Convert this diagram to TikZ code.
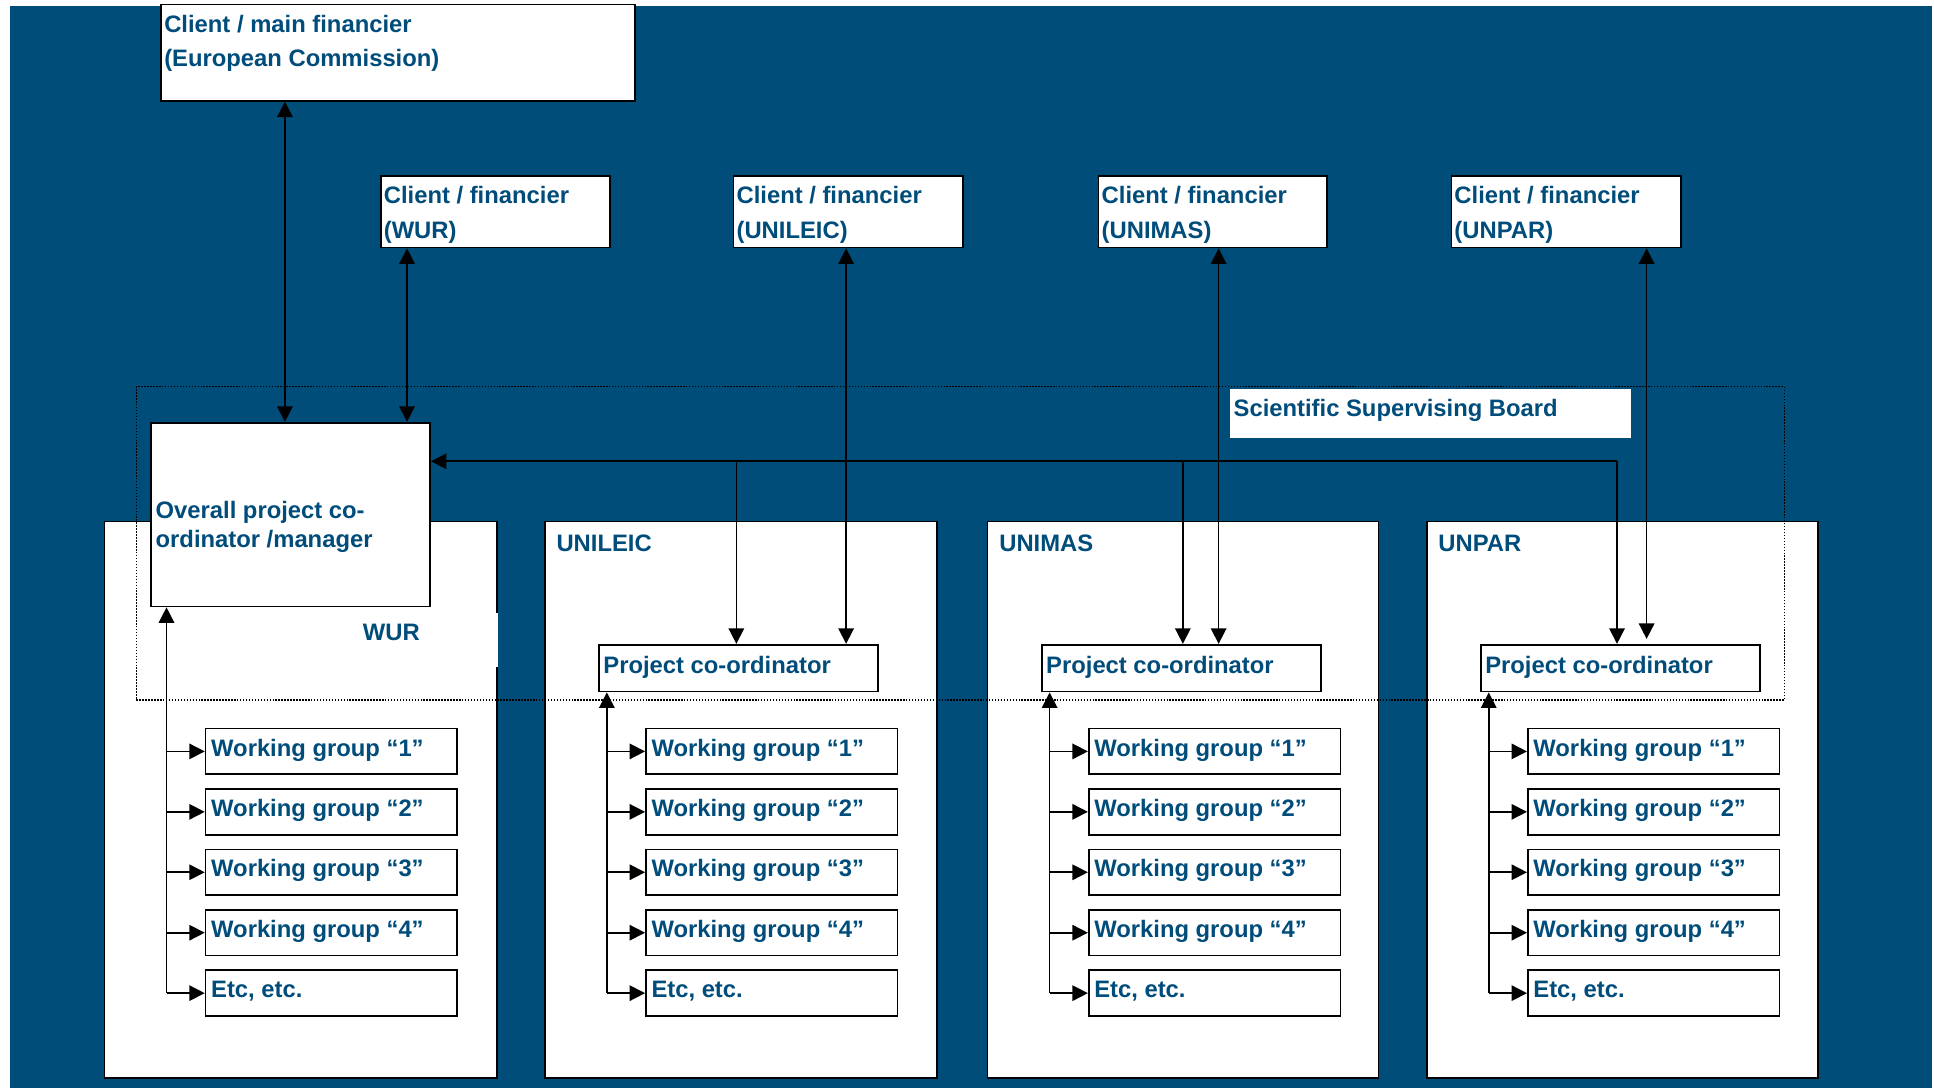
\documentclass[tikz,border=0pt]{standalone}
\usepackage{fontspec}
\setmainfont{Liberation Sans}
\usetikzlibrary{arrows.meta}
\definecolor{bg}{RGB}{0,77,122}
\definecolor{tx}{RGB}{0,76,122}
\tikzset{
  box/.style={draw=black, fill=white, line width=1.4pt, inner sep=0pt, anchor=north west},
  plainbox/.style={fill=white, inner sep=0pt, anchor=north west},
  txt/.style={font=\fontsize{19.3}{24}\selectfont\bfseries, text=tx, inner sep=0pt, anchor=base west},
  link/.style={draw=black, line width=1.3pt},
  arr/.style={link, -{Triangle[length=12.5pt,width=12.5pt]}},
  dbl/.style={link, {Triangle[length=12.5pt,width=12.5pt]}-{Triangle[length=12.5pt,width=12.5pt]}},
  frame/.style={draw=black, line width=1.1pt, dash pattern=on 1.2pt off 1.2pt, inner sep=0pt, anchor=north west},
}
\begin{document}
\begin{tikzpicture}[x=1pt,y=-1pt]
\useasboundingbox (0,0) rectangle (1568,882);
\fill[white] (0,0) rectangle (1568,882);
\fill[bg] (8,5) rectangle (1566,882);

% organisation boxes
\node[box, minimum width=318pt, minimum height=451pt] (owur) at (84,422) {};
\node[box, minimum width=318pt, minimum height=451pt] (oleic) at (441,422) {};
\node[box, minimum width=317pt, minimum height=451pt] (omas) at (800,422) {};
\node[box, minimum width=317pt, minimum height=451pt] (opar) at (1156,422) {};
\fill[white] (399,497) rectangle (404,541);

% dotted frame of the board
\node[frame, minimum width=1336pt, minimum height=254pt] (board) at (110,313) {};
\node[plainbox, minimum width=325pt, minimum height=40pt] (ssb) at (997,315) {};
\node[txt] (ssbt) at (1000,338) {Scientific Supervising Board};

% clients
\node[box, minimum width=384pt, minimum height=78pt] (ec) at (130,3) {};
\node[txt] (ect1) at (133,26) {Client / main financier};
\node[txt] (ect2) at (133,54) {(European Commission)};

\node[box, minimum width=186pt, minimum height=58pt] (cw) at (308,142) {};
\node[box, minimum width=186pt, minimum height=58pt] (cl) at (594,142) {};
\node[box, minimum width=185pt, minimum height=58pt] (cm) at (890,142) {};
\node[box, minimum width=186pt, minimum height=58pt] (cp) at (1176,142) {};
\node[txt] (cwt1) at (311,165) {Client / financier};
\node[txt] (cwt2) at (311,193) {(WUR)};
\node[txt] (clt1) at (597,165) {Client / financier};
\node[txt] (clt2) at (597,193) {(UNILEIC)};
\node[txt] (cmt1) at (893,165) {Client / financier};
\node[txt] (cmt2) at (893,193) {(UNIMAS)};
\node[txt] (cpt1) at (1179,165) {Client / financier};
\node[txt] (cpt2) at (1179,193) {(UNPAR)};

% coordinators
\node[box, minimum width=226pt, minimum height=149pt] (ov) at (122,342) {};
\node[txt] (ovt1) at (126,420) {Overall project co-};
\node[txt] (ovt2) at (126,444) {ordinator /manager};

\node[txt] (lwur) at (294,519) {WUR};
\node[txt] (lleic) at (451,447) {UNILEIC};
\node[txt] (lmas) at (810,447) {UNIMAS};
\node[txt] (lpar) at (1166,447) {UNPAR};

\node[box, minimum width=226pt, minimum height=38pt] (pcl) at (485,522) {};
\node[box, minimum width=226pt, minimum height=38pt] (pcm) at (844,522) {};
\node[box, minimum width=226pt, minimum height=38pt] (pcp) at (1200,522) {};
\node[txt] (pclt) at (489,546) {Project co-ordinator};
\node[txt] (pcmt) at (848,546) {Project co-ordinator};
\node[txt] (pcpt) at (1204,546) {Project co-ordinator};

% working groups
\foreach \c/\bx in {a/166,b/523,c/882,d/1238}{
  \foreach \i/\yy/\lab in {1/590/Working group “1”,2/639/Working group “2”,3/688/Working group “3”,4/737/Working group “4”,5/786/{Etc, etc.}}{
    \node[box, minimum width=204pt, minimum height=37pt] (wg\c\i) at (\bx,\yy) {};
    \node[txt] (wgt\c\i) at (\bx+5,\yy+23) {\lab};
  }
}

% connectors to clients
\draw[dbl] ([xshift=101pt]ec.south west) -- ([xshift=109pt]ov.north west);
\draw[dbl] ([xshift=22pt]cw.south west) -- ([xshift=208pt]ov.north west);
\draw[dbl] ([xshift=92pt]cl.south west) -- ([xshift=201pt]pcl.north west);
\draw[dbl] ([xshift=98pt]cm.south west) -- ([xshift=144pt]pcm.north west);
\draw[dbl] ([xshift=159pt]cp.south west) -- ([xshift=135pt,yshift=4pt]pcp.north west);

% board bus
\coordinate (j1) at (597,374);
\coordinate (j2) at (959,374);
\coordinate (j3) at (1311,374);
\draw[arr] (j3) -- (j3 -| ov.east);
\draw[arr] (j1) -- (j1 |- pcl.north);
\draw[arr] (j2) -- (j2 |- pcm.north);
\draw[arr] (j3) -- (j3 |- pcp.north);

% trees
\foreach \c/\tx/\top in {a/135/ov,b/492/pcl,c/851/pcm,d/1207/pcp}{
  \coordinate (tr\c) at (\tx,0);
  \draw[arr] (tr\c |- wg\c5.west) -- (tr\c |- \top.south);
  \foreach \i in {1,...,5}{
    \draw[arr] (tr\c |- wg\c\i.west) -- (wg\c\i.west);
  }
}
\end{tikzpicture}
\end{document}
